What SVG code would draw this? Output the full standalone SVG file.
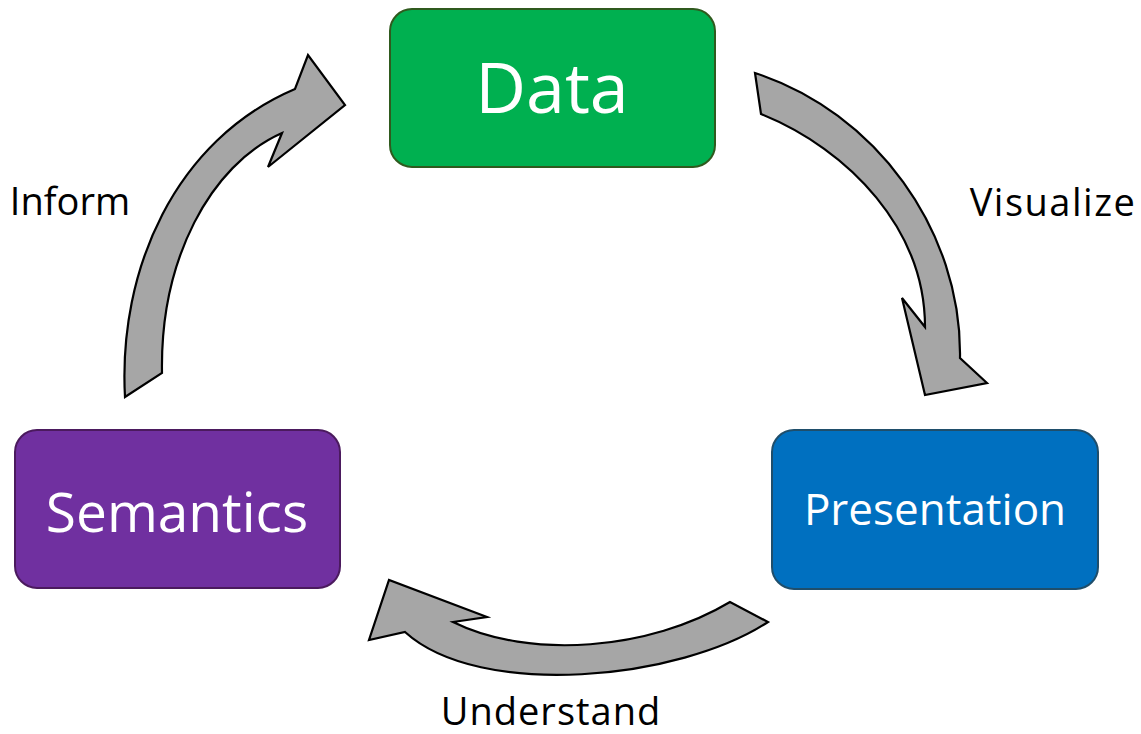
<svg xmlns="http://www.w3.org/2000/svg" width="1141" height="734" viewBox="0 0 1141 734">
  <style>
    .box { stroke-width: 2; }
    .box-label { font-family: "Open Sans", "Liberation Sans", sans-serif; fill: #ffffff; text-anchor: middle; }
    .flow { fill: #a6a6a6; stroke: #000000; stroke-width: 2.2; stroke-linejoin: miter; }
    .flow-label { font-family: "Open Sans", "Liberation Sans", sans-serif; font-size: 38px; fill: #000000; text-anchor: middle; }
  </style>
  <rect width="1141" height="734" fill="#ffffff"/>

  <!-- curved block arrows between the stages -->
  <g id="connectors">
    <!-- Data to Presentation -->
    <path class="flow" d="M755,73 C875,112 962,230 960,358 L987,383 L925,395 L902,298 L925,327 C925,230 850,150 761,114 Z"/>
    <!-- Presentation to Semantics -->
    <path class="flow" d="M768,622 C680,680 480,700 405,632 L369,640 L389,580 L487,617 L453,622 C530,660 650,650 730,602 Z"/>
    <!-- Semantics to Data -->
    <path class="flow" d="M125,397 C118,270 175,140 295,89 L308,55 L345,105 L268,167 L282,133 C210,165 160,260 162,373 Z"/>
    <text class="flow-label" x="1053" y="216" letter-spacing="1.5">Visualize</text>
    <text class="flow-label" x="551" y="725" letter-spacing="1">Understand</text>
    <text class="flow-label" x="70" y="215">Inform</text>
  </g>

  <g id="node-data">
    <rect class="box" x="390" y="9" width="325" height="158" rx="22" fill="#00b050" stroke="#2f5a1e"/>
    <text class="box-label" x="552" y="113" font-size="70">Data</text>
  </g>

  <g id="node-presentation">
    <rect class="box" x="772" y="430" width="326" height="159" rx="22" fill="#0070c0" stroke="#1f4e6b"/>
    <text class="box-label" x="935" y="525" font-size="44">Presentation</text>
  </g>

  <g id="node-semantics">
    <rect class="box" x="15" y="430" width="325" height="158" rx="22" fill="#7030a0" stroke="#4b1a5e"/>
    <text class="box-label" x="177" y="532" font-size="55">Semantics</text>
  </g>
</svg>
